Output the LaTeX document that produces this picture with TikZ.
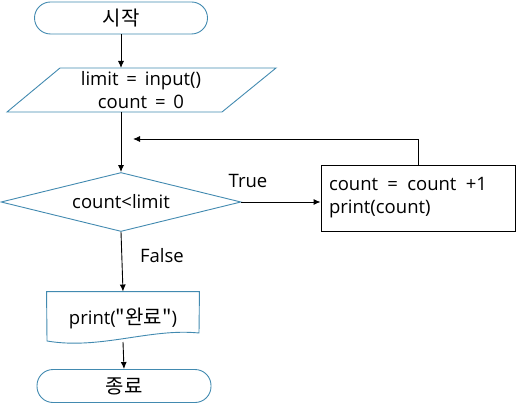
\documentclass[tikz,border=0pt]{standalone}
\usepackage{fontspec}
\setmainfont{Open Sans}
\newfontfamily\krfont[Scale=1.08]{Noto Sans CJK KR}
\usepackage{xcolor}
\usetikzlibrary{shapes.geometric,arrows.meta}
\definecolor{flowblue}{RGB}{66,138,176}
\tikzset{
  term/.style={draw=flowblue, rounded corners=16pt, minimum width=173pt, minimum height=32pt},
  test/.style={diamond, draw=flowblue, shape aspect=4, minimum width=240pt, minimum height=59pt, inner sep=0pt},
  proc/.style={draw, align=left, text width=178pt, inner sep=8pt, minimum height=66pt}
}
\begin{document}
\begin{tikzpicture}[x=1pt,y=-1pt,>={Latex[length=7pt,width=6pt]},line width=0.9pt,font=\fontsize{18.5}{23}\selectfont]
\useasboundingbox (0,0) rectangle (518,411);
%start
\node[term] (start) at (121,18) {\krfont 시작};
%input
\draw[flowblue] (60,68) -- (276,68) -- (222,112) -- (7,112) -- cycle;
\node[align=center] (io) at (141,90) {limit \,=\, input()\\count \,=\, 0};
\coordinate (iotop) at (121,68);
\coordinate (iobot) at (121,112);
%condition
\node[test] (cond) at (121,202) {count<limit};
\node[proc] (upd) at (418,198) {count \,=\, count \,+1\\print(count)};
\coordinate (back) at (133,139);
%output
\node[minimum width=152pt, minimum height=52pt] (doc) at (123,318) {print({\krfont\symbol{34}완료\symbol{34}})};
\draw[flowblue] (doc.north west) -- (doc.north east) -- (199,333) .. controls (150,328) and (100,350) .. (47,341) -- cycle;
%end
\node[term, minimum width=174pt, minimum height=33pt] (end) at (124,386) {\krfont 종료};
%arrows
\draw[->] (start.south) -- (iotop);
\draw[->] (iobot) -- (cond.north);
\draw[->] (cond.east) -- (cond.east -| upd.west);
\draw[->] (upd.north) |- (back);
\draw[->] (cond.south) -- (doc.north);
\draw[->] (123,342) -- (end.north);
\node (true) at (248,181) {True};
\node (false) at (162,256) {False};
\end{tikzpicture}
\end{document}
